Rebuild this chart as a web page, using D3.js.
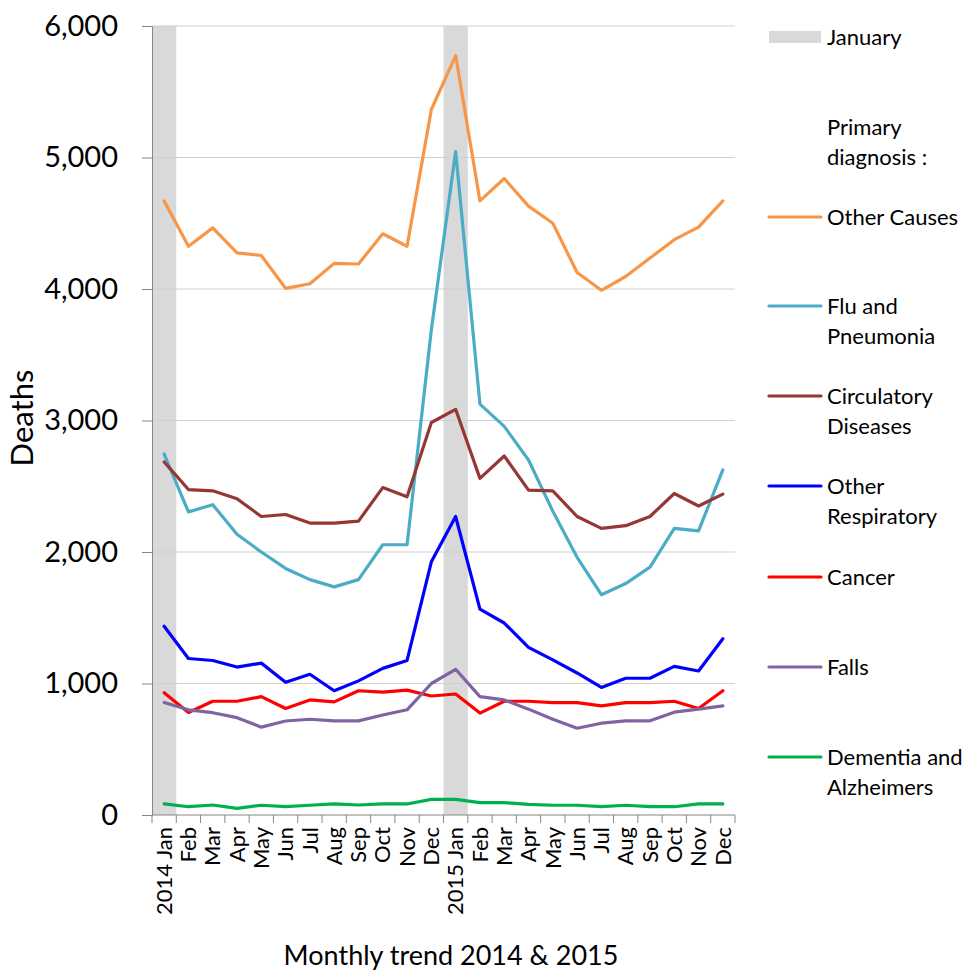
<!DOCTYPE html>
<html>
<head>
<meta charset="utf-8">
<script src="https://cdn.jsdelivr.net/npm/d3@7"></script>
<style>
  html, body { margin: 0; padding: 0; background: #fff; }
  svg { display: block; }
  text { font-family: Lato, "Open Sans", sans-serif; fill: #000; }
</style>
</head>
<body>
<svg id="chart" width="968" height="970"></svg>
<script>
// Monthly deaths by primary diagnosis, 2014–2015
const months = ["2014 Jan","Feb","Mar","Apr","May","Jun","Jul","Aug","Sep","Oct","Nov","Dec",
                "2015 Jan","Feb","Mar","Apr","May","Jun","Jul","Aug","Sep","Oct","Nov","Dec"];
const januaryIdx = [0, 12];
const yTicks = [0, 1000, 2000, 3000, 4000, 5000, 6000];

const otherCauses   = [4670,4325,4465,4275,4255,4005,4040,4195,4190,4420,4325,5365,5775,4670,4840,4630,4500,4125,3990,4095,4235,4375,4470,4670];
const fluPneumonia  = [2745,2305,2360,2135,2000,1875,1790,1735,1790,2055,2055,3690,5045,3125,2955,2700,2310,1960,1675,1760,1885,2180,2160,2625];
const circulatory   = [2685,2475,2465,2405,2270,2285,2220,2220,2235,2490,2420,2985,3085,2560,2730,2470,2465,2270,2180,2200,2270,2445,2350,2440];
const otherResp     = [1435,1190,1175,1125,1155,1010,1070, 945,1020,1115,1175,1925,2270,1565,1460,1275,1180,1080, 970,1040,1040,1130,1095,1340];
const cancer        = [ 930, 780, 865, 865, 900, 810, 875, 860, 945, 935, 950, 905, 920, 775, 865, 865, 855, 855, 830, 855, 855, 865, 810, 945];
const falls         = [ 855, 800, 778, 740, 668, 715, 728, 716, 716, 760, 800,1000,1108, 900, 875, 805, 728, 660, 698, 716, 716, 782, 805, 830];
const dementia      = [  84,  63,  76,  51,  74,  63,  74,  84,  76,  84,  84, 119, 119,  94,  94,  81,  74,  74,  63,  74,  63,  63,  84,  84];

const seriesNames  = ["Other Causes","Flu and Pneumonia","Circulatory Diseases","Other Respiratory","Cancer","Falls","Dementia and Alzheimers"];
const seriesValues = [otherCauses, fluPneumonia, circulatory, otherResp, cancer, falls, dementia];
const seriesColors = ["#f79646","#4bacc6","#953735","#0000ff","#ff0000","#8064a2","#00b050"];
// legend rows: label lines and vertical centre of the swatch
const legendLines  = [["Other Causes"],["Flu and","Pneumonia"],["Circulatory","Diseases"],["Other","Respiratory"],["Cancer"],["Falls"],["Dementia and","Alzheimers"]];
const legendY      = [217, 306, 396, 486, 577, 667, 757];

const svg = d3.select("#chart");
const margin = {left: 152, right: 233, top: 26, bottom: 155};
const W = 968, H = 970;
const plotW = W - margin.left - margin.right;
const plotH = H - margin.top - margin.bottom;

const x = d3.scaleBand().domain(d3.range(months.length)).range([margin.left, margin.left + plotW]).padding(0);
const y = d3.scaleLinear().domain([0, 6000]).range([margin.top + plotH, margin.top]);

// January shading
svg.append("g").selectAll("rect").data(januaryIdx).join("rect")
  .attr("x", d => x(d)).attr("y", y(6000))
  .attr("width", x.bandwidth()).attr("height", y(0) - y(6000))
  .attr("fill", "#d9d9d9");

// horizontal gridlines
svg.append("g").selectAll("line").data(yTicks.filter(v => v > 0)).join("line")
  .attr("x1", margin.left).attr("x2", margin.left + plotW)
  .attr("y1", d => y(d)).attr("y2", d => y(d))
  .attr("stroke", "#d0d0d0").attr("stroke-width", 1.2);

// y axis
const yAxis = svg.append("g").attr("transform", `translate(${margin.left},0)`)
  .call(d3.axisLeft(y).tickValues(yTicks).tickFormat(d3.format(",")).tickSize(10).tickPadding(24));
yAxis.select(".domain").attr("stroke", "#868686");
yAxis.selectAll(".tick line").attr("stroke", "#868686");
yAxis.selectAll(".tick text").attr("font-family", "Lato").attr("font-size", 29).attr("fill", "#000");

// x axis: ticks at band boundaries, labels rotated at band centres
const xAxisG = svg.append("g").attr("transform", `translate(0,${y(0)})`);
xAxisG.append("line").attr("x1", margin.left).attr("x2", margin.left + plotW)
  .attr("stroke", "#868686");
const bounds = d3.range(months.length + 1).map(i => margin.left + i * x.bandwidth());
xAxisG.selectAll("line.tk").data(bounds).join("line").attr("class", "tk")
  .attr("x1", d => d).attr("x2", d => d).attr("y1", 0).attr("y2", 8)
  .attr("stroke", "#868686");
xAxisG.selectAll("text").data(months).join("text")
  .attr("transform", (d, i) => `translate(${x(i) + x.bandwidth() / 2},12) rotate(-90)`)
  .attr("text-anchor", "end").attr("dy", "0.35em")
  .attr("font-size", 22)
  .text(d => d);

// series lines
const line = d3.line().x((d, i) => x(i) + x.bandwidth() / 2).y(d => y(d));
svg.append("g").selectAll("path").data(seriesValues).join("path")
  .attr("d", line).attr("fill", "none")
  .attr("stroke", (d, i) => seriesColors[i]).attr("stroke-width", 3.2)
  .attr("stroke-linejoin", "round").attr("stroke-linecap", "round");

// axis titles
svg.append("text").attr("transform", `translate(33,418) rotate(-90)`)
  .attr("text-anchor", "middle").attr("font-size", 31).text("Deaths");
svg.append("text").attr("x", 451).attr("y", 965)
  .attr("text-anchor", "middle").attr("font-size", 27).text("Monthly trend 2014 & 2015");

// legend
const fs = 22;
const lg = svg.append("g");
const sw0 = 769, sw1 = 821, tx = 827;
lg.append("rect").attr("x", sw0).attr("y", 31).attr("width", sw1 - sw0).attr("height", 12).attr("fill", "#d9d9d9");
lg.append("text").attr("x", tx).attr("y", 37).attr("dy", "0.35em").attr("font-size", fs).text("January");
lg.append("text").attr("x", tx).attr("y", 127).attr("dy", "0.35em").attr("font-size", fs).text("Primary");
lg.append("text").attr("x", tx).attr("y", 157).attr("dy", "0.35em").attr("font-size", fs).text("diagnosis :");

const items = lg.selectAll("g.item").data(seriesNames).join("g").attr("class", "item")
  .attr("transform", (d, i) => `translate(0,${legendY[i]})`);
items.append("line").attr("x1", sw0).attr("x2", sw1).attr("y1", 0).attr("y2", 0)
  .attr("stroke", (d, i) => seriesColors[i]).attr("stroke-width", 3.2).attr("stroke-linecap", "round");
items.each(function(d, i) {
  const g = d3.select(this);
  legendLines[i].forEach((t, k) => {
    g.append("text").attr("x", tx).attr("y", k * 30).attr("dy", "0.35em").attr("font-size", fs).text(t);
  });
});
</script>
</body>
</html>
